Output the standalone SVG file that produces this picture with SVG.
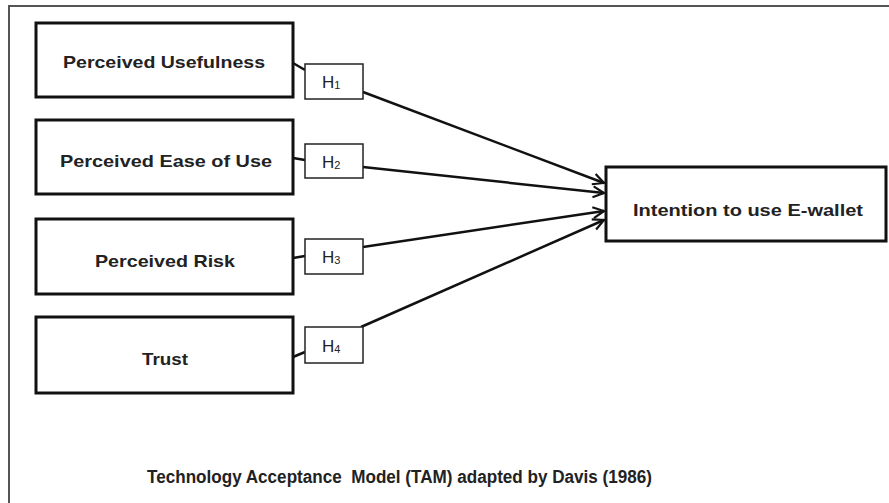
<svg xmlns="http://www.w3.org/2000/svg" width="889" height="503" viewBox="0 0 889 503">
<style>
.box{fill:#fff;stroke:#111;stroke-width:3}
.hbox{fill:#fff;stroke:#222;stroke-width:1.5}
.lbl{font-family:"Liberation Sans",Arial,sans-serif;font-weight:bold;font-size:17px;fill:#222}
.cap{font-family:"Liberation Sans",Arial,sans-serif;font-weight:bold;font-size:18px;fill:#222}
.h{font-family:"Liberation Sans",Arial,sans-serif;font-size:17px;fill:#222}
.sub{font-size:11px}
.con{stroke:#111;stroke-width:2.5;fill:none}
</style>
<defs>
<marker id="arr" markerWidth="14" markerHeight="14" refX="12" refY="7" orient="auto" markerUnits="userSpaceOnUse">
<polyline points="1,1.5 12,7 1,12.5" fill="none" stroke="#111" stroke-width="2.2"/>
</marker>
</defs>
<rect x="0" y="0" width="889" height="503" fill="#fff"/>
<path d="M9,503 V6 H889" fill="none" stroke="#555" stroke-width="2"/>

<g id="connectors">
<line class="con" x1="293" y1="63" x2="305" y2="70"/>
<line class="con" x1="293" y1="158" x2="305" y2="160"/>
<line class="con" x1="293" y1="258" x2="305" y2="256"/>
<line class="con" x1="293" y1="357" x2="305" y2="352"/>
<line class="con" x1="363" y1="92" x2="604" y2="183" marker-end="url(#arr)"/>
<line class="con" x1="363" y1="167" x2="604" y2="193" marker-end="url(#arr)"/>
<line class="con" x1="363" y1="247" x2="604" y2="211" marker-end="url(#arr)"/>
<line class="con" x1="361" y1="327" x2="604" y2="220" marker-end="url(#arr)"/>
</g>

<g id="pu">
<rect class="box" x="36" y="23" width="257" height="74"/>
<text class="lbl" x="164" y="68" text-anchor="middle" textLength="202" lengthAdjust="spacingAndGlyphs">Perceived Usefulness</text>
</g>
<g id="peou">
<rect class="box" x="36" y="120" width="257" height="74"/>
<text class="lbl" x="166" y="167" text-anchor="middle" textLength="212" lengthAdjust="spacingAndGlyphs">Perceived Ease of Use</text>
</g>
<g id="pr">
<rect class="box" x="36" y="219" width="257" height="75"/>
<text class="lbl" x="165" y="267" text-anchor="middle" textLength="140" lengthAdjust="spacingAndGlyphs">Perceived Risk</text>
</g>
<g id="trust">
<rect class="box" x="36" y="317" width="257" height="76"/>
<text class="lbl" x="165" y="365" text-anchor="middle" textLength="46" lengthAdjust="spacingAndGlyphs">Trust</text>
</g>

<g id="h1">
<rect class="hbox" x="305" y="64" width="58" height="35"/>
<text class="h" x="322" y="88">H<tspan class="sub" dy="1">1</tspan></text>
</g>
<g id="h2">
<rect class="hbox" x="305" y="144" width="58" height="34"/>
<text class="h" x="322" y="168">H<tspan class="sub" dy="1">2</tspan></text>
</g>
<g id="h3">
<rect class="hbox" x="305" y="239" width="58" height="35"/>
<text class="h" x="322" y="263">H<tspan class="sub" dy="1">3</tspan></text>
</g>
<g id="h4">
<rect class="hbox" x="305" y="327" width="58" height="36"/>
<text class="h" x="322" y="352">H<tspan class="sub" dy="1">4</tspan></text>
</g>

<g id="intention">
<rect class="box" x="606" y="167" width="280" height="74"/>
<text class="lbl" x="748" y="216" text-anchor="middle" textLength="230" lengthAdjust="spacingAndGlyphs">Intention to use E-wallet</text>
</g>

<text class="cap" x="147" y="483" textLength="505" lengthAdjust="spacingAndGlyphs" xml:space="preserve">Technology Acceptance  Model (TAM) adapted by Davis (1986)</text>
</svg>
